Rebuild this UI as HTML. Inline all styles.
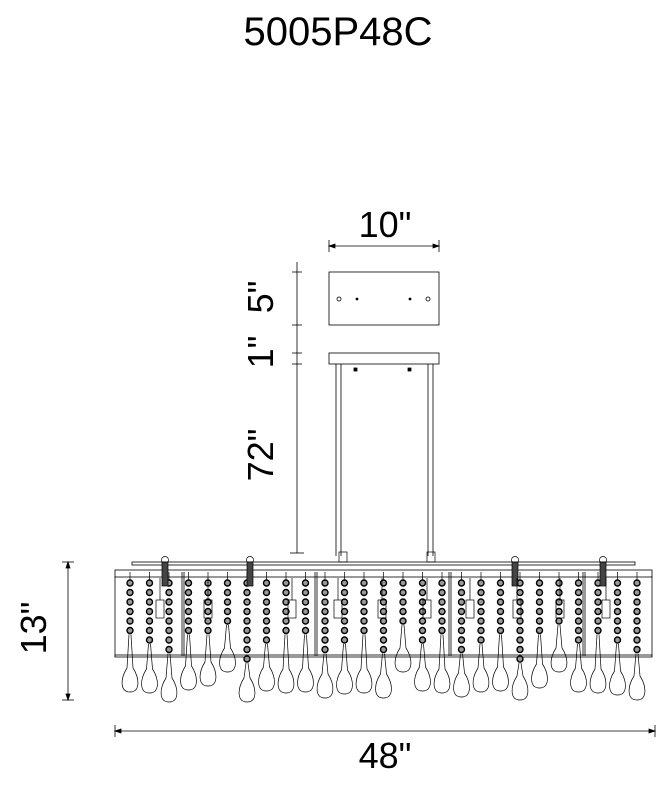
<!DOCTYPE html>
<html><head><meta charset="utf-8"><style>
html,body{margin:0;padding:0;background:#fff}
svg{display:block}
text{font-family:"Liberation Sans",Arial,sans-serif;fill:#000}
</style></head><body>
<svg id="s" width="668" height="785" viewBox="0 0 668 785" xmlns="http://www.w3.org/2000/svg">
<text x="338" y="45" font-size="40" text-anchor="middle">5005P48C</text>
<text x="385" y="237" font-size="36" text-anchor="middle">10"</text>
<text x="0" y="0" font-size="36" text-anchor="middle" transform="translate(273,297) rotate(-90)">5"</text>
<text x="0" y="0" font-size="36" text-anchor="middle" transform="translate(273,352) rotate(-90)">1"</text>
<text x="0" y="0" font-size="36" text-anchor="middle" transform="translate(273,455) rotate(-90)">72"</text>
<text x="0" y="0" font-size="36" text-anchor="middle" transform="translate(46,628) rotate(-90)">13"</text>
<text x="385" y="768" font-size="36" text-anchor="middle">48"</text>
<g stroke="#000" stroke-width="0.8" fill="none">
<line x1="329" y1="246" x2="439" y2="246"/>
<line x1="329" y1="240" x2="329" y2="252"/><line x1="439" y1="240" x2="439" y2="252"/>
<path d="M329 246 l6 -2 v4z M439 246 l-6 -2 v4z" fill="#000"/>
<rect x="329" y="272" width="110" height="53"/>
<circle cx="339" cy="299" r="2"/><circle cx="428" cy="299" r="2"/>
<circle cx="357" cy="299" r="1" fill="#000"/><circle cx="410" cy="299" r="1" fill="#000"/>
<rect x="329" y="353" width="110" height="11"/>
<rect x="354" y="368" width="3" height="3" fill="#000"/><rect x="408" y="368" width="3" height="3" fill="#000"/>
<line x1="336" y1="364" x2="336" y2="556"/><line x1="341" y1="364" x2="341" y2="556"/>
<line x1="428" y1="364" x2="428" y2="556"/><line x1="433" y1="364" x2="433" y2="556"/>
<line x1="297" y1="262" x2="297" y2="553"/>
<line x1="292" y1="272" x2="302" y2="272"/><line x1="292" y1="325" x2="302" y2="325"/>
<line x1="292" y1="353" x2="302" y2="353"/><line x1="292" y1="364" x2="302" y2="364"/>
<line x1="290" y1="553" x2="304" y2="553"/>
<line x1="68" y1="562" x2="68" y2="700"/>
<line x1="62" y1="562" x2="74" y2="562"/><line x1="62" y1="700" x2="74" y2="700"/>
<path d="M68 562 l-2 6 h4z M68 700 l-2 -6 h4z" fill="#000"/>
<line x1="115" y1="731" x2="655" y2="731"/>
<line x1="115" y1="725" x2="115" y2="737"/><line x1="655" y1="725" x2="655" y2="737"/>
<path d="M115 731 l6 -2 v4z M655 731 l-6 -2 v4z" fill="#000"/>
<rect x="132" y="562" width="503" height="3"/>
<rect x="115" y="570" width="537" height="7"/>
<line x1="115" y1="576" x2="115" y2="657"/><line x1="652" y1="576" x2="652" y2="657"/>
<rect x="115" y="655" width="537" height="2"/>
<line x1="182" y1="572" x2="182" y2="656"/><line x1="184" y1="572" x2="184" y2="656"/>
<line x1="315" y1="572" x2="315" y2="656"/><line x1="317" y1="572" x2="317" y2="656"/>
<line x1="449" y1="572" x2="449" y2="656"/><line x1="451" y1="572" x2="451" y2="656"/>
<line x1="583" y1="572" x2="583" y2="656"/><line x1="585" y1="572" x2="585" y2="656"/>
</g>
<g id="st" stroke="#000" stroke-width="0.7" fill="none"></g>
</svg>
<script>
var g=document.getElementById('st'),h='';
var bot=[692,693,702,690,686,672,702,691,693,692,698,694,693,698,672,691,693,697,692,691,700,688,672,692,693,695,700];
var nb=[6,7,8,6,6,5,9,7,6,6,8,7,6,8,5,7,6,8,7,6,9,6,5,7,6,7,8];
for(var i=0;i<27;i++){var x=130+i*19.5,b=bot[i],n=nb[i];
 h+='<line x1="'+x+'" y1="572" x2="'+x+'" y2="580"/>';
 for(var k=0;k<n;k++){h+='<circle cx="'+x+'" cy="'+(583+k*9.5)+'" r="3" stroke-width="1.4" fill="#999"/>';}
 var e=583+(n-1)*9.5+4;
 h+='<path d="M'+(x-1)+' '+e+' L'+(x-3)+' '+(b-24)+' C'+(x-10)+' '+(b-13)+' '+(x-10)+' '+b+' '+x+' '+b+' C'+(x+10)+' '+b+' '+(x+10)+' '+(b-13)+' '+(x+3)+' '+(b-24)+' L'+(x+1)+' '+e+'"/>';
}
[165,250,515,603].forEach(function(x){h+='<circle cx="'+x+'" cy="560" r="3.5"/><rect x="'+(x-3)+'" y="562" width="6" height="24" fill="#444"/>';});
[160,208,292,338,382,427,470,517,560,606].forEach(function(x){h+='<rect x="'+(x-4)+'" y="600" width="8" height="18"/><line x1="'+x+'" y1="578" x2="'+x+'" y2="600"/>';});
h+='<rect x="339" y="552" width="8" height="10"/><rect x="427" y="552" width="8" height="10"/>';
g.innerHTML=h;
</script>
</body></html>
